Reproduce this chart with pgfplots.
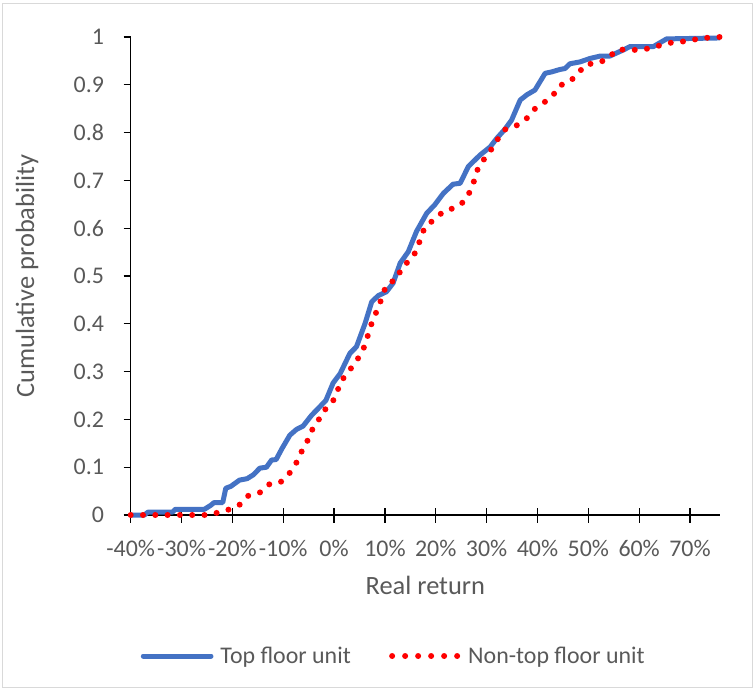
\documentclass[border=0pt]{standalone}
\usepackage{fontspec}
\setmainfont{Carlito}
\usepackage{pgfplots}
\usepackage{pgfplotstable}
\pgfplotsset{compat=1.18}
\definecolor{txt}{HTML}{595959}
\definecolor{xblue}{HTML}{4472C4}
\definecolor{framec}{HTML}{D9D9D9}

\pgfplotstableread{
x y
-40 0
-37.3 0
-36.6 0.006
-31.8 0.006
-31.2 0.012
-25.5 0.012
-24.3 0.020
-23.6 0.026
-21.9 0.026
-21.3 0.056
-20.3 0.060
-18.6 0.073
-17.1 0.076
-15.9 0.084
-14.6 0.098
-13.3 0.100
-12.3 0.115
-11.4 0.116
-10.3 0.138
-8.7 0.167
-7.4 0.179
-6.1 0.186
-4.4 0.209
-3.1 0.223
-1.6 0.240
-0.2 0.276
1.2 0.296
3.1 0.338
4.4 0.352
6.1 0.401
7.4 0.446
8.7 0.459
10.3 0.467
11.6 0.485
13.0 0.527
14.6 0.551
16.2 0.593
18.2 0.631
19.8 0.649
21.5 0.673
23.4 0.692
24.8 0.694
26.4 0.729
28.7 0.753
30.7 0.770
32.0 0.788
33.6 0.807
34.9 0.826
36.6 0.868
37.9 0.879
39.5 0.889
41.5 0.924
42.8 0.927
44.4 0.932
45.4 0.934
46.4 0.944
48.4 0.948
50.3 0.955
52.3 0.960
54.2 0.960
56.9 0.973
58.2 0.980
62.8 0.980
65.4 0.996
75.9 0.998
}\topfloor

\pgfplotstableread{
x y
-40 0
-25.1 0
-22.8 0.005
-20.5 0.012
-18.5 0.022
-16.9 0.040
-14.6 0.047
-12.8 0.064
-10.6 0.068
-9.0 0.084
-7.6 0.105
-6.6 0.129
-5.4 0.150
-4.7 0.173
-3.3 0.192
-2.4 0.215
-0.6 0.231
0.5 0.253
1.2 0.278
2.6 0.296
4.0 0.317
5.4 0.338
6.3 0.362
6.9 0.386
7.7 0.410
8.7 0.434
9.5 0.458
10.3 0.482
12.4 0.494
13.3 0.518
15.1 0.535
16.4 0.556
17.0 0.580
17.9 0.603
19.8 0.619
21.6 0.636
23.9 0.643
25.7 0.657
26.9 0.680
27.7 0.704
28.4 0.729
29.7 0.747
31.0 0.766
32.3 0.788
33.7 0.807
35.9 0.815
37.9 0.830
39.4 0.849
41.3 0.863
43.0 0.877
44.3 0.898
46.4 0.907
48.0 0.924
49.5 0.943
51.8 0.945
53.9 0.955
55.6 0.974
58.0 0.973
60.4 0.973
62.7 0.978
64.9 0.985
67.2 0.990
69.5 0.991
71.8 0.997
74.2 0.999
75.9 1.0
}\nontop

\begin{document}
\begin{tikzpicture}[x=1bp,y=1bp]
\useasboundingbox (-130.7,-176) rectangle (625.3,515);
\draw[framec, line width=1bp] (-127.7,-172.5) rectangle (621.8,511.5);
% y axis with outside ticks
\begin{axis}[
  at={(0,0)}, anchor=south west,
  scale only axis, width=589.3bp, height=478bp,
  xmin=-40, xmax=75.9, ymin=0, ymax=1,
  axis y line=left, axis x line=none,
  axis line style={-, black, line width=1.3bp},
  ytick={0,0.1,0.2,0.3,0.4,0.5,0.6,0.7,0.8,0.9,1},
  yticklabels={0,0.1,0.2,0.3,0.4,0.5,0.6,0.7,0.8,0.9,1},
  tick align=outside, major tick length=7bp,
  tick style={black, line width=1.3bp},
  yticklabel style={font=\fontsize{24}{28}\selectfont, text=txt, anchor=east, inner sep=0pt, xshift=-19.5bp},
  ylabel={Cumulative probability},
  ylabel style={font=\fontsize{26.5}{30}\selectfont, text=txt, at={(axis description cs:-0.1760,0.5)}, anchor=center},
]
\end{axis}
% x axis with crossing ticks, data, legend
\begin{axis}[
  at={(0,0)}, anchor=south west,
  scale only axis, width=589.3bp, height=478bp,
  xmin=-40, xmax=75.9, ymin=0, ymax=1,
  axis x line=bottom, axis y line=none,
  axis line style={-, black, line width=1.3bp},
  xtick={-40,-30,-20,-10,0,10,20,30,40,50,60,70},
  xticklabels={-40\%,-30\%,-20\%,-10\%,0\%,10\%,20\%,30\%,40\%,50\%,60\%,70\%},
  tick align=center, major tick length=15bp,
  tick style={black, line width=1.3bp},
  xticklabel style={font=\fontsize{24}{28}\selectfont, text=txt, anchor=base, inner sep=0pt, yshift=-33.5bp},
  xlabel={Real return},
  xlabel style={font=\fontsize{26.5}{30}\selectfont, text=txt, at={(axis description cs:0.5,-0.1464)}, anchor=center},
  clip=false,
  legend columns=2,
  legend style={at={(axis description cs:0.01714,-0.295)}, anchor=west, draw=none, fill=none,
    inner sep=0pt, outer sep=0pt, font=\fontsize{24}{28}\selectfont, text=txt,
    nodes={inner sep=0pt},
    /tikz/column 1/.style={column sep=7bp},
    /tikz/column 2/.style={column sep=38.3bp},
    /tikz/column 3/.style={column sep=8bp}},
]
\addplot[xblue, line width=5bp, line join=round,
  legend image code/.code={\draw[xblue, line width=5bp, line cap=round] (0bp,0bp) -- (67.7bp,0bp);}]
  table[x=x,y=y]{\topfloor};
\addlegendentry{Top floor unit}
\addplot[red, line width=6bp, line cap=round, dash pattern=on 0bp off 12.3bp,
  legend image code/.code={\draw[red, line width=6bp, line cap=round, dash pattern=on 0bp off 13bp] (0bp,0bp) -- (65.1bp,0bp);}]
  table[x=x,y=y]{\nontop};
\addlegendentry{Non-top floor unit}
\end{axis}
\end{tikzpicture}
\end{document}
